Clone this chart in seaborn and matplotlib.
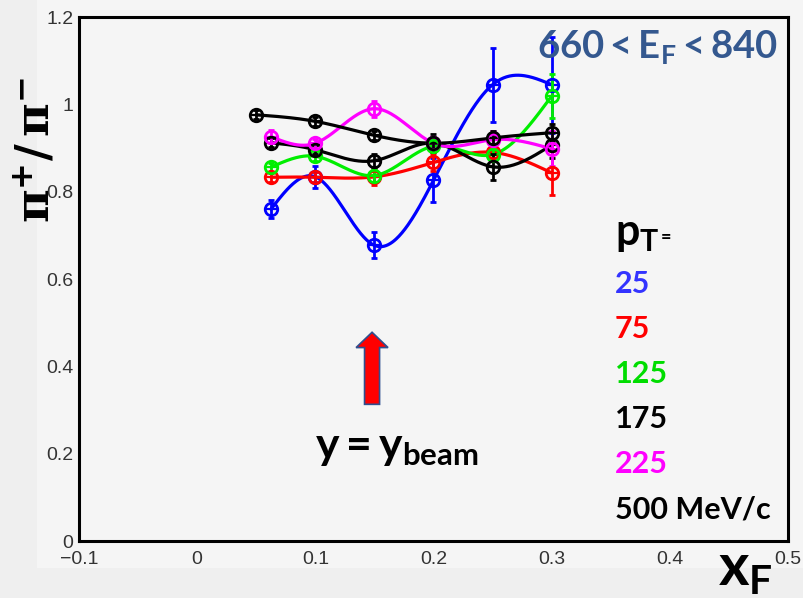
import numpy as np
import pandas as pd
import matplotlib
matplotlib.use("Agg")
import matplotlib.pyplot as plt
from matplotlib.patches import Rectangle
from matplotlib.ticker import MultipleLocator, FuncFormatter
import seaborn as sns

# ---- data: pi+/pi- ratio vs x_F for several pT bins ----
pt_labels = ["25", "75", "125", "175", "225", "500 MeV/c"]
colors = ["#0000ff", "#ff0000", "#00ee00", "#000000", "#ff00ff", "#000000"]
text_colors = ["#3333ff", "#ff0000", "#00dd00", "#000000", "#ff00ff", "#000000"]

xf_low = [0.0625, 0.1, 0.15, 0.2, 0.25, 0.3]
xf_500 = [0.05, 0.1, 0.15, 0.2, 0.25, 0.3]

ratio_25 = [0.760, 0.834, 0.677, 0.826, 1.045, 1.045]
err_25 = [0.020, 0.025, 0.030, 0.050, 0.085, 0.110]
ratio_75 = [0.833, 0.833, 0.834, 0.867, 0.890, 0.843]
err_75 = [0.010, 0.012, 0.018, 0.020, 0.012, 0.050]
ratio_125 = [0.856, 0.881, 0.837, 0.904, 0.885, 1.019]
err_125 = [0.010, 0.010, 0.015, 0.012, 0.012, 0.050]
ratio_175 = [0.912, 0.896, 0.871, 0.911, 0.857, 0.907]
err_175 = [0.010, 0.010, 0.015, 0.020, 0.030, 0.030]
ratio_225 = [0.926, 0.911, 0.990, 0.911, 0.919, 0.898]
err_225 = [0.015, 0.010, 0.018, 0.015, 0.020, 0.040]
ratio_500 = [0.976, 0.961, 0.929, 0.911, 0.923, 0.935]
err_500 = [0.010, 0.010, 0.010, 0.015, 0.015, 0.020]

series_x = [xf_low, xf_low, xf_low, xf_low, xf_low, xf_500]
series_y = [ratio_25, ratio_75, ratio_125, ratio_175, ratio_225, ratio_500]
series_e = [err_25, err_75, err_125, err_175, err_225, err_500]

x_ticks = [-0.1, 0.0, 0.1, 0.2, 0.3, 0.4, 0.5]
y_ticks = [0.0, 0.2, 0.4, 0.6, 0.8, 1.0, 1.2]


def natural_spline(x, y, n=60):
    """Smooth curve through the points (natural cubic spline)."""
    x = np.asarray(x, float)
    y = np.asarray(y, float)
    k = len(x)
    h = np.diff(x)
    A = np.zeros((k, k))
    r = np.zeros(k)
    A[0, 0] = A[-1, -1] = 1.0
    for i in range(1, k - 1):
        A[i, i - 1] = h[i - 1]
        A[i, i] = 2 * (h[i - 1] + h[i])
        A[i, i + 1] = h[i]
        r[i] = 6 * ((y[i + 1] - y[i]) / h[i] - (y[i] - y[i - 1]) / h[i - 1])
    M = np.linalg.solve(A, r)
    xs, ys = [], []
    for i in range(k - 1):
        t = np.linspace(x[i], x[i + 1], n, endpoint=(i == k - 2))
        a = x[i + 1] - t
        b = t - x[i]
        s = (M[i] * a**3 + M[i + 1] * b**3) / (6 * h[i]) \
            + (y[i] / h[i] - M[i] * h[i] / 6) * a \
            + (y[i + 1] / h[i] - M[i + 1] * h[i] / 6) * b
        xs.append(t)
        ys.append(s)
    return np.concatenate(xs), np.concatenate(ys)


curve_frames = []
for lab, xs, ys in zip(pt_labels, series_x, series_y):
    cx, cy = natural_spline(xs, ys)
    curve_frames.append(pd.DataFrame({"xF": cx, "ratio": cy, "pT": lab}))
curves = pd.concat(curve_frames, ignore_index=True)

# ---- style ----
sns.set_theme(style="white")
bg = "#f5f5f5"
plt.rcParams["font.family"] = ["Liberation Sans", "DejaVu Sans"]
plt.rcParams["mathtext.fontset"] = "custom"
plt.rcParams["mathtext.bf"] = "Lato:bold"
plt.rcParams["mathtext.rm"] = "Lato"
plt.rcParams["mathtext.it"] = "Lato:italic"

fig = plt.figure(figsize=(8.04, 5.98), dpi=100, facecolor="#efefef")
fig.patches.append(Rectangle((37 / 804, 1 - 568 / 598), 1, 1, transform=fig.transFigure,
                             facecolor=bg, edgecolor="none", zorder=-10))
ax = fig.add_axes([79 / 804, 1 - 541 / 598, (788 - 79) / 804, (541 - 17) / 598])
ax.set_facecolor(bg)

sns.lineplot(data=curves, x="xF", y="ratio", hue="pT", units="pT", estimator=None,
             palette=dict(zip(pt_labels, colors)), hue_order=pt_labels,
             linewidth=2.3, legend=False, ax=ax, zorder=3)

for xs, ys, es, c in zip(series_x, series_y, series_e, colors):
    ax.errorbar(xs, ys, yerr=es, fmt="o", ms=9, mfc="none", mec=c, mew=2.0,
                ecolor=c, elinewidth=2.0, capsize=2.5, capthick=2.0, zorder=4)
    ax.plot(xs, ys, ls="none", marker="_", ms=9, mew=1.6, color=c, zorder=4)

ax.set_xlim(-0.1, 0.5)
ax.set_ylim(0, 1.2)
ax.set_xticks(x_ticks)
ax.set_yticks(y_ticks)
ax.xaxis.set_minor_locator(MultipleLocator(0.02))
ax.yaxis.set_minor_locator(MultipleLocator(0.05))
fmt = FuncFormatter(lambda v, p: ("%g" % round(v, 3)).replace("-", "\u2212"))
ax.xaxis.set_major_formatter(fmt)
ax.yaxis.set_major_formatter(fmt)
ax.set_xlabel("")
ax.set_ylabel("")
for s in ax.spines.values():
    s.set_visible(True)
    s.set_linewidth(2.2)
    s.set_color("black")
ax.tick_params(axis="both", which="both", direction="in", color="black",
               labelsize=14, labelcolor="#333333", width=1.8)
ax.tick_params(axis="y", which="major", length=13, pad=4)
ax.tick_params(axis="y", which="minor", length=6.5)
ax.tick_params(axis="x", which="major", length=11, pad=7.5)
ax.tick_params(axis="x", which="minor", length=5)
ax.tick_params(top=False, right=False, which="both")

# beam-rapidity arrow
ax.arrow(0.148, 0.313, 0, 0.478 - 0.313, width=0.0127, head_width=0.027,
         head_length=0.035, length_includes_head=True, facecolor="#ff0000",
         edgecolor="#2f4f8f", linewidth=1.2, zorder=5)
ax.text(0.1, 0.187, r"$\mathbf{y=y_{beam}}$", fontsize=32, ha="left",
        va="baseline", color="black", zorder=6)

# legend block
fig.patches.append(Rectangle((600 / 804, 1 - 528 / 598), 173 / 804, 260 / 598,
                             transform=fig.transFigure, facecolor="#f0f0f0",
                             edgecolor="none", zorder=-5))
fig.text(615 / 804, 1 - 245 / 598, r"$\mathbf{p_T}$", fontsize=31, ha="left",
         va="baseline", color="black")
fig.text(661 / 804, 1 - 243 / 598, "=", fontsize=13, fontweight="bold",
         family="Lato", ha="left", va="baseline", color="black")
for i, (lab, c) in enumerate(zip(pt_labels, text_colors)):
    fig.text(615 / 804, 1 - (293 + 45 * i) / 598, lab, fontsize=22,
             fontweight="bold", family="Lato", ha="left", va="baseline", color=c)

# energy range title
fig.text(537 / 804, 1 - 58 / 598, r"$\mathbf{660<E_F<840}$", fontsize=27.5,
         ha="left", va="baseline", color="#34588f")

# axis titles
fig.text(718 / 804, 1 - 585 / 598, r"$\mathbf{x_F}$", fontsize=42, ha="left",
         va="baseline", color="black")
fig.text(37 / 804, 1 - 150 / 598, r"$\mathbf{\pi^{+}/\,\pi^{-}}$", fontsize=33,
         rotation=90, ha="center", va="center", color="black",
         math_fontfamily="dejavuserif")

fig.savefig("out.png", dpi=100, facecolor=fig.get_facecolor())
